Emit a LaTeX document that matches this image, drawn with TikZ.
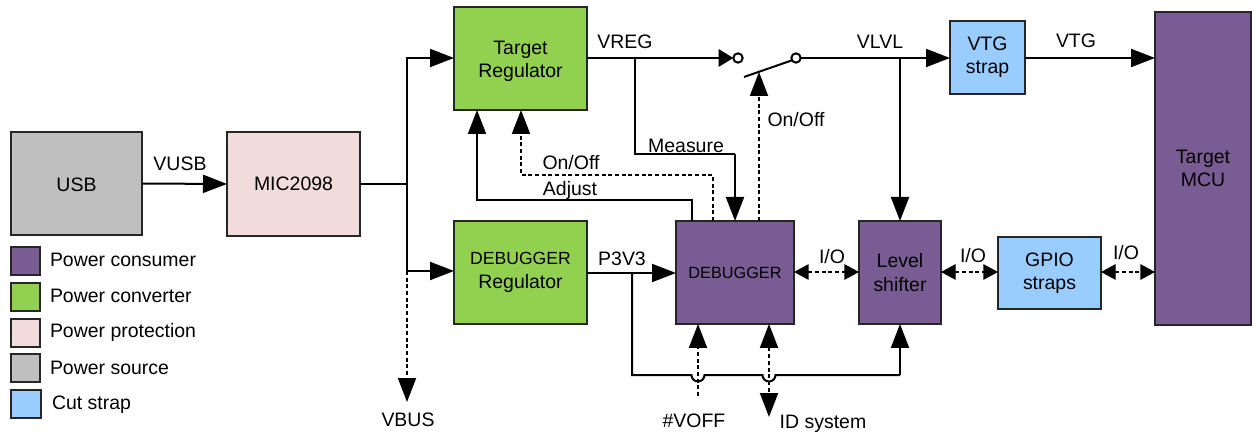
\documentclass[tikz,border=0pt]{standalone}
\usepackage{fontspec}
\setmainfont{Liberation Sans}
\usetikzlibrary{arrows.meta}
\definecolor{cons}{HTML}{7A5C94}
\definecolor{conv}{HTML}{92D050}
\definecolor{prot}{HTML}{F2DCDB}
\definecolor{srce}{HTML}{BFBFBF}
\definecolor{strp}{HTML}{99CCFF}
\tikzset{
  x=0.75pt,y=-0.75pt,
  every node/.style={font=\fontsize{14.6pt}{17.5pt}\selectfont,inner sep=0pt,outer sep=0pt},
  box/.style={draw=black!85,line width=1.5pt,align=center},
  wh/.style n args={2}{minimum width=#1*0.75pt,minimum height=#2*0.75pt},
  wire/.style={line width=1.5pt,draw=black},
  tipped/.style={wire,-{Triangle[length=18pt,width=13.5pt]}},
  shorttip/.style={wire,-{Triangle[length=11pt,width=13pt]}},
  duo/.style={wire,dctl,{Triangle[length=11pt,width=11.5pt]}-{Triangle[length=11pt,width=11.5pt]}},
  dctl/.style={dash pattern=on 3pt off 2pt},
  dtip/.style={wire,dctl,-{Triangle[length=18pt,width=13.5pt]}},
  swatch/.style={box,wh={29}{28}},
  lab/.style={anchor=center,text height=10.5pt,text depth=0pt},
  leg/.style={anchor=west,text height=10.5pt,text depth=0pt},
  contact/.style={circle,draw=black,line width=1.5pt,fill=white,minimum size=7pt},
}
\begin{document}
\begin{tikzpicture}
\useasboundingbox (0,0) rectangle (1252,434);
% blocks
\node[box,fill=srce,wh={131}{103}] (usb) at (76.5,183.5) {\rule{0pt}{12pt}USB};
\node[box,fill=prot,wh={133}{104}] (mic) at (293.5,184) {MIC2098};
\node[box,fill=conv,wh={133}{103}] (treg) at (520.5,58.5) {\rule{0pt}{14pt}Target\\Regulator};
\node[box,fill=conv,wh={133}{103}] (dreg) at (520.5,272.5) {{\fontsize{13.2pt}{17.5pt}\selectfont DEBUGGER}\\Regulator};
\node[box,fill=cons,wh={118}{103}] (dbg) at (735,272.5) {\fontsize{12.2pt}{17.5pt}\selectfont DEBUGGER};
\node[box,fill=cons,wh={82}{103}] (lvl) at (900,272.5) {Level\\shifter};
\node[box,fill=strp,wh={103}{72}] (gpio) at (1049.5,273) {GPIO\\straps};
\node[box,fill=strp,wh={75}{73}] (vtg) at (987.5,57.5) {VTG\\strap};
\node[box,fill=cons,wh={96}{313}] (mcu) at (1203,168.5) {Target\\MCU};
% switch
\node[contact] (sa) at (738,58) {};
\node[contact] (sb) at (796,58) {};
\coordinate (lev) at (744,77);
\coordinate (levhit) at (759,72);
% junctions
\coordinate (jbus) at (407,184);
\coordinate (jbusT) at (407,58);
\coordinate (jbusB) at (407,271);
\coordinate (vbus) at (407,402);
\coordinate (jreg) at (635,58);
\coordinate (mA) at (635,154);
\coordinate (mB) at (735,154);
\coordinate (jlvl) at (900,58);
\coordinate (adjA) at (692,200);
\coordinate (adjB) at (477,200);
\coordinate (onA) at (713,175);
\coordinate (onB) at (521,175);
\coordinate (j33) at (632,273);
\coordinate (rail) at (632,375);
\coordinate (railE) at (900,375);
\coordinate (voff) at (698,396);
\coordinate (ids) at (769,417);
\coordinate (iorow) at (0,272);
% power wires
\draw[tipped] (usb.east) -- (mic.west);
\draw[wire] (mic.east) -- (jbus);
\draw[tipped] (jbus) -- (jbusT) -- (treg.west |- jbusT);
\draw[tipped] (jbus) -- (jbusB) -- (dreg.west |- jbusB);
\draw[dtip] (jbusB) -- (vbus);
\draw[shorttip] (treg.east |- jreg) -- (sa.west);
\draw[wire] (jreg) -- (mA) -- (mB);
\draw[tipped] (mB) -- (dbg.north -| mB);
\draw[wire] (lev) -- (sb.210);
\draw[tipped] (sb.east) -- (vtg.west |- sb);
\draw[tipped] (jlvl) -- (lvl.north -| jlvl);
\draw[tipped] (vtg.east |- jlvl) -- (mcu.west |- jlvl);
\draw[tipped] (dreg.east |- j33) -- (dbg.west |- j33);
\draw[wire] (j33) -- (rail) -- (691.5,375) arc[start angle=180,end angle=0,radius=6.5] -- (762.5,375) arc[start angle=180,end angle=0,radius=6.5] -- (railE);
\draw[tipped] (railE) -- (lvl.south -| railE);
% control wires
\draw[tipped] (dbg.north -| adjA) -- (adjA) -- (adjB) -- (treg.south -| adjB);
\draw[dtip] (dbg.north -| onA) -- (onA) -- (onB) -- (treg.south -| onB);
\draw[dtip] (dbg.north -| levhit) -- (levhit);
\draw[dtip] (voff) -- (dbg.south -| voff);
\draw[wire,dctl,{Triangle[length=18pt,width=13.5pt]}-{Triangle[length=18pt,width=13.5pt]}] (dbg.south -| ids) -- (ids);
\draw[duo] (dbg.east |- iorow) -- (lvl.west |- iorow);
\draw[duo] (lvl.east |- iorow) -- (gpio.west |- iorow);
\draw[duo] (gpio.east |- iorow) -- (mcu.west |- iorow);
% labels
\node[lab] (tvusb) at (180,164) {VUSB};
\node[lab] (tvreg) at (625,42) {VREG};
\node[lab] (tvlvl) at (880,42) {VLVL};
\node[lab] (tvtg) at (1076,41) {VTG};
\node[lab] (tonb) at (796,120) {On/Off};
\node[lab] (tmeas) at (686,146) {Measure};
\node[lab] (tona) at (571,163) {On/Off};
\node[lab] (tadj) at (570,189) {Adjust};
\node[lab] (tp33) at (622,259) {P3V3};
\node[lab] (tio1) at (832,257) {I/O};
\node[lab] (tio2) at (973,256) {I/O};
\node[lab] (tio3) at (1126,253) {I/O};
\node[lab] (tvbus) at (408,419) {VBUS};
\node[lab] (tvoff) at (694,420) {\#VOFF};
\node[lab] (tids) at (823,421) {ID system};
% legend
\node[swatch,fill=cons] (k1) at (25.5,261) {};
\node[swatch,fill=conv] (k2) at (25.5,297) {};
\node[swatch,fill=prot] (k3) at (25.5,333) {};
\node[swatch,fill=srce] (k4) at (25.5,368) {};
\node[swatch,fill=strp,wh={30}{28}] (k5) at (26,404) {};
\node[leg] (l1) at (50,260) {Power consumer};
\node[leg] (l2) at (50,296) {Power converter};
\node[leg] (l3) at (50,331) {Power protection};
\node[leg] (l4) at (50,367) {Power source};
\node[leg] (l5) at (52,402) {Cut strap};
\end{tikzpicture}
\end{document}
